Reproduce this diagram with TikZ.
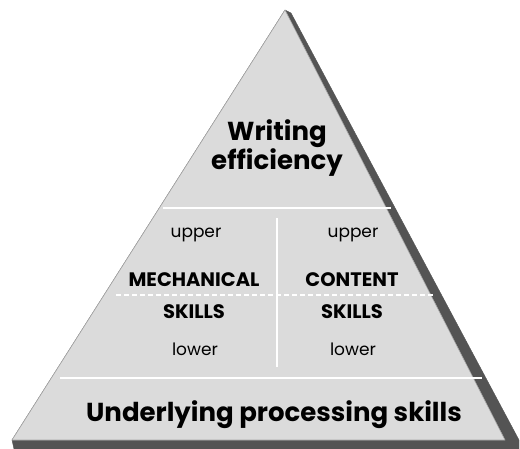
\documentclass[tikz,border=0pt]{standalone}
\usepackage{fontspec}
\setsansfont{Poppins}
\usepackage{tikz}
\usetikzlibrary{positioning}
\definecolor{pyrfill}{gray}{0.86}
\definecolor{pyrshade}{gray}{0.33}
\tikzset{
  pyr-face/.style={fill=pyrfill, draw=gray!70, line width=0.6pt, line join=round},
  pyr-shadow/.style={fill=pyrshade, draw=pyrshade, line join=round},
  pyr-rule/.style={draw=white, line width=1.6pt},
  pyr-title/.style={font=\sffamily\bfseries\fontsize{26}{30}\selectfont, align=center, inner sep=0pt},
  pyr-skill/.style={font=\sffamily\bfseries\fontsize{19.5}{22}\selectfont, inner sep=0pt},
  pyr-level/.style={font=\sffamily\fontsize{17}{19}\selectfont, inner sep=0pt}
}
\begin{document}
\begin{tikzpicture}[x=1pt, y=-1pt]
  \useasboundingbox (0,0) rectangle (520,449);

  % Shadow
  \fill[pyr-shadow] (285,10) -- (291,13) -- (519,440) -- (519,449) -- (14,449) -- (12,440) -- cycle;

  % Front face
  \draw[pyr-face] (285,10) -- (505,440) -- (12,440) -- cycle;

  % Dividers
  \draw[pyr-rule] (163,208) -- (391,208);
  \draw[pyr-rule] (277,218) -- (277,367);
  \draw[pyr-rule, line width=1.2pt, dash pattern=on 5pt off 3pt] (116,295) -- (433,295);
  \draw[pyr-rule] (60,378) -- (482,378);

  % Top level
  \node[pyr-title] (top) at (277,148) {Writing\\[-1pt]efficiency};

  % Mechanical skills
  \node[pyr-level] (mup) at (196,235) {upper};
  \node[pyr-skill] (mech) at (194,280) {MECHANICAL};
  \node[pyr-skill] (mskill) at (194,312) {SKILLS};
  \node[pyr-level] (mlow) at (195,349) {lower};

  % Content skills
  \node[pyr-level] (cup) at (353,235) {upper};
  \node[pyr-skill] (cont) at (352,280) {CONTENT};
  \node[pyr-skill] (cskill) at (352,312) {SKILLS};
  \node[pyr-level] (clow) at (353,349) {lower};

  % Base level
  \node[pyr-title] (base) at (274,415) {Underlying processing skills};
\end{tikzpicture}
\end{document}
